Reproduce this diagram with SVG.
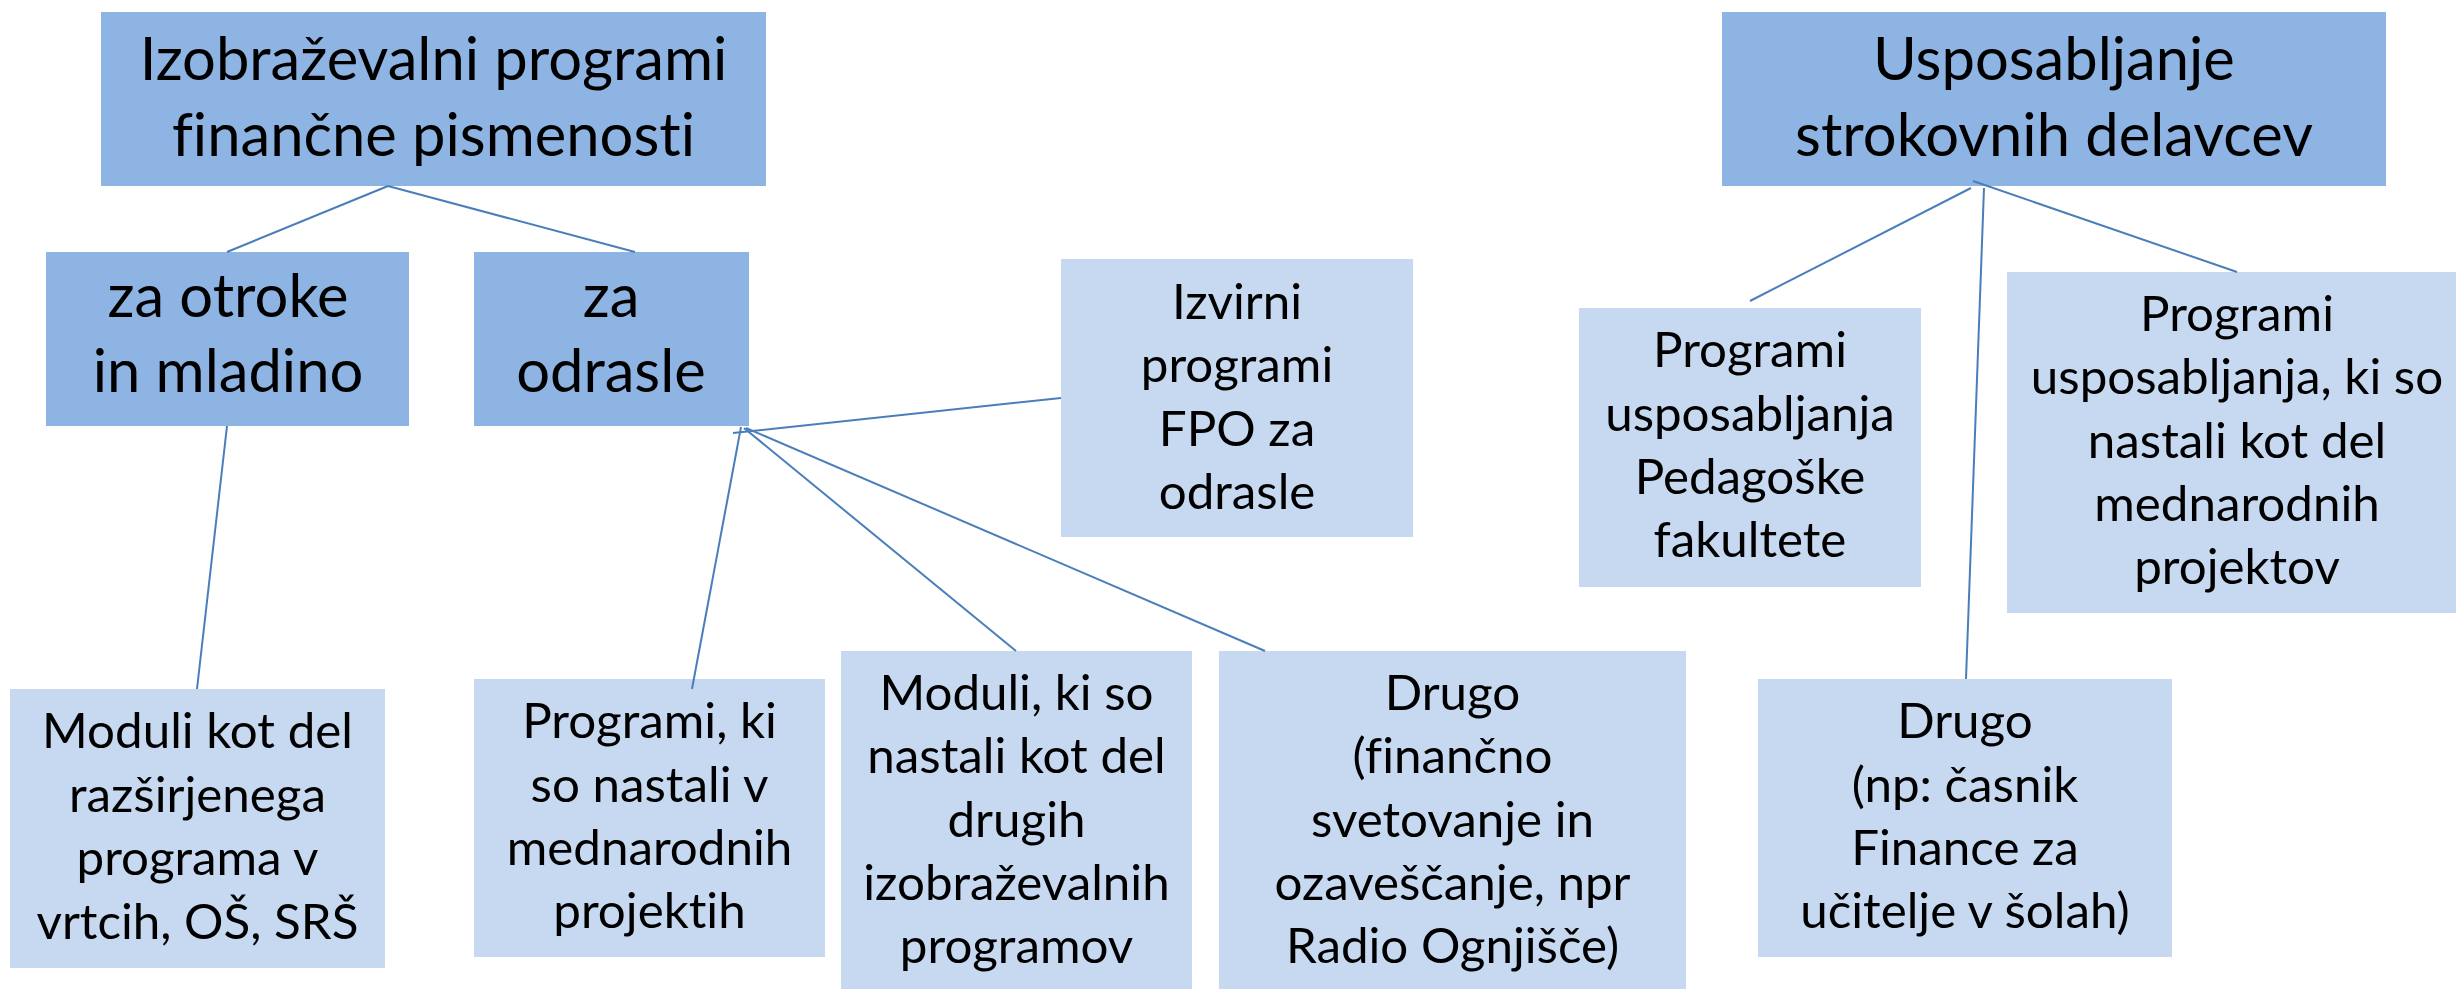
<svg xmlns="http://www.w3.org/2000/svg" width="2456" height="989" viewBox="0 0 2456 989">
<style>
.l1{fill:#8EB4E3}
.l2{fill:#C6D9F1}
text{font-family:Lato,"Open Sans","Liberation Sans",sans-serif;fill:#000;text-anchor:middle;font-variant-ligatures:none}
.t1{font-size:59.7px}
.t2{font-size:49.3px}
.c line{stroke:#4A7EBB;stroke-width:2;fill:none}
</style>
<rect width="2456" height="989" fill="#fff"/>
<g id="n-root1"><rect class="l1" x="101" y="12" width="665" height="174"/>
<text class="t1" x="433.5" y="80">Izobraževalni programi</text>
<text class="t1" x="433.5" y="156">finančne pismenosti</text></g>
<g id="n-root2"><rect class="l1" x="1722" y="12" width="664" height="174"/>
<text class="t1" x="2054" y="80">Usposabljanje</text>
<text class="t1" x="2054" y="156">strokovnih delavcev</text></g>
<g id="n-otroke"><rect class="l1" x="46" y="252" width="363" height="174"/>
<text class="t1" x="228" y="317">za otroke</text>
<text class="t1" x="228" y="392">in mladino</text></g>
<g id="n-odrasle"><rect class="l1" x="474" y="252" width="275" height="174"/>
<text class="t1" x="611" y="317">za</text>
<text class="t1" x="611" y="392">odrasle</text></g>
<g id="n-izvirni"><rect class="l2" x="1061" y="259" width="352" height="278"/>
<text class="t2" x="1237" y="319">Izvirni</text>
<text class="t2" x="1237" y="382">programi</text>
<text class="t2" x="1237" y="446">FPO za</text>
<text class="t2" x="1237" y="509">odrasle</text></g>
<g id="n-pedagoske"><rect class="l2" x="1579" y="308" width="342" height="279"/>
<text class="t2" x="1750" y="367">Programi</text>
<text class="t2" x="1750" y="431">usposabljanja</text>
<text class="t2" x="1750" y="494">Pedagoške</text>
<text class="t2" x="1750" y="557">fakultete</text></g>
<g id="n-mednarodni"><rect class="l2" x="2007" y="272" width="449" height="341"/>
<text class="t2" x="2237" y="331">Programi</text>
<text class="t2" x="2237" y="394">usposabljanja, ki so</text>
<text class="t2" x="2237" y="458">nastali kot del</text>
<text class="t2" x="2237" y="521">mednarodnih</text>
<text class="t2" x="2237" y="584">projektov</text></g>
<g id="n-moduli-vrtci"><rect class="l2" x="10" y="689" width="375" height="279"/>
<text class="t2" x="197.5" y="748">Moduli kot del</text>
<text class="t2" x="197.5" y="812">razširjenega</text>
<text class="t2" x="197.5" y="875">programa v</text>
<text class="t2" x="197.5" y="939">vrtcih, OŠ, SRŠ</text></g>
<g id="n-programi-ki"><rect class="l2" x="474" y="679" width="351" height="278"/>
<text class="t2" x="649.5" y="738">Programi, ki</text>
<text class="t2" x="649.5" y="802">so nastali v</text>
<text class="t2" x="649.5" y="865">mednarodnih</text>
<text class="t2" x="649.5" y="928">projektih</text></g>
<g id="n-moduli-ki"><rect class="l2" x="841" y="651" width="351" height="338"/>
<text class="t2" x="1016.5" y="710">Moduli, ki so</text>
<text class="t2" x="1016.5" y="773">nastali kot del</text>
<text class="t2" x="1016.5" y="837">drugih</text>
<text class="t2" x="1016.5" y="900">izobraževalnih</text>
<text class="t2" x="1016.5" y="963">programov</text></g>
<g id="n-drugo1"><rect class="l2" x="1219" y="651" width="467" height="338"/>
<text class="t2" x="1452.5" y="710">Drugo</text>
<text class="t2" x="1452.5" y="773">(finančno</text>
<text class="t2" x="1452.5" y="837">svetovanje in</text>
<text class="t2" x="1452.5" y="900">ozaveščanje, npr</text>
<text class="t2" x="1452.5" y="963">Radio Ognjišče)</text></g>
<g id="n-drugo2"><rect class="l2" x="1758" y="679" width="414" height="278"/>
<text class="t2" x="1965" y="738">Drugo</text>
<text class="t2" x="1965" y="802">(np: časnik</text>
<text class="t2" x="1965" y="865">Finance za</text>
<text class="t2" x="1965" y="928">učitelje v šolah)</text></g>
<g class="c" id="connectors">
<line x1="388" y1="186" x2="227" y2="252"/>
<line x1="388" y1="186" x2="635" y2="252"/>
<line x1="227" y1="426" x2="197" y2="689"/>
<line x1="1061" y1="398" x2="733" y2="433"/>
<line x1="741" y1="427" x2="692" y2="689"/>
<line x1="744" y1="428" x2="1016" y2="651"/>
<line x1="746" y1="428" x2="1265" y2="651"/>
<line x1="1971" y1="188" x2="1750" y2="301"/>
<line x1="1973" y1="181" x2="2237" y2="272"/>
<line x1="1984" y1="188" x2="1966" y2="679"/>
</g>
</svg>
